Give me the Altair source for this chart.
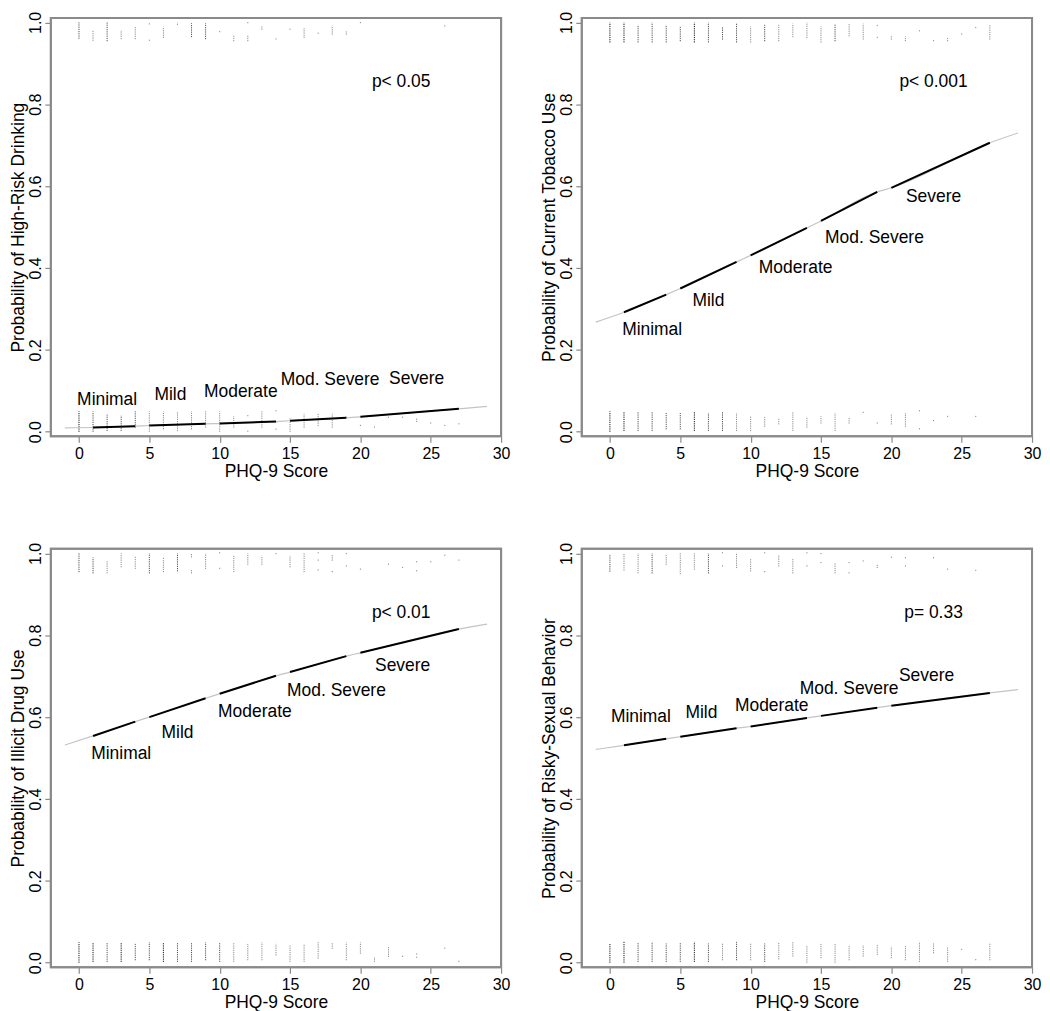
import altair as alt
import pandas as pd

FONT = "Liberation Sans"

# ---------------- data ----------------
CURVE_X = [-1, 1, 4, 5, 9, 10, 14, 15, 19, 20, 27, 29]
SEGMENT = ["", "Minimal", "Minimal", "Mild", "Mild", "Moderate", "Moderate",
           "Mod. Severe", "Mod. Severe", "Severe", "Severe", ""]
LABELS = ["Minimal", "Mild", "Moderate", "Mod. Severe", "Severe"]

DRINK_Y = [0.0097, 0.0105, 0.0138, 0.0154, 0.0195, 0.020, 0.025, 0.027, 0.034, 0.0365, 0.056, 0.062]
TOBACCO_Y = [0.268, 0.292, 0.335, 0.350, 0.415, 0.431, 0.498, 0.515, 0.586, 0.596, 0.706, 0.730]
DRUG_Y = [0.532, 0.554, 0.589, 0.600, 0.646, 0.657, 0.701, 0.710, 0.749, 0.757, 0.815, 0.827]
SEX_Y = [0.521, 0.531, 0.547, 0.552, 0.573, 0.577, 0.598, 0.603, 0.623, 0.628, 0.659, 0.667]

DRINK_LX = [2.0, 6.5, 11.5, 17.85, 24.0]
DRINK_LY = [0.077, 0.089, 0.097, 0.126, 0.128]
TOBACCO_LX = [3.0, 7.0, 13.2, 18.8, 23.0]
TOBACCO_LY = [0.249, 0.320, 0.400, 0.474, 0.574]
DRUG_LX = [3.0, 7.0, 12.5, 18.3, 23.0]
DRUG_LY = [0.511, 0.560, 0.612, 0.663, 0.724]
SEX_LX = [2.2, 6.5, 11.5, 17.0, 22.5]
SEX_LY = [0.600, 0.610, 0.627, 0.669, 0.700]

P_TEXT = ["p< 0.05", "p< 0.001", "p< 0.01", "p= 0.33"]
P_X = [22.9, 23.0, 22.9, 23.0]
P_Y = [0.854, 0.854, 0.854, 0.854]

Y_TITLES = ["Probability of High-Risk Drinking", "Probability of Current Tobacco Use",
            "Probability of Illicit Drug Use", "Probability of Risky-Sexual Behavior"]

# jittered observations: (PHQ-9 score, lowest y, highest y, density 1-3)
DRINK_RUG = [
    (0, .960, 1.0, 2), (1, .955, .981, 1), (2, .954, 1.0, 2), (3, .959, .981, 1), (4, .959, .990, 1),
    (5, .955, .955, 1), (5, .995, .995, 1), (6, .962, .989, 1), (7, .994, 1.0, 1), (8, .964, .998, 2),
    (9, .959, .998, 2), (10, .976, .976, 1), (11, .954, .968, 1), (12, .998, .998, 1), (12, .954, .970, 1),
    (13, .982, .990, 1), (14, .958, .958, 1), (15, .982, .982, 1), (16, .962, .986, 1), (17, .972, .972, 1),
    (18, .970, .992, 1), (19, .970, .978, 1), (20, .998, .998, 1), (26, .990, .990, 1),
    (0, 0.0, .050, 3), (1, 0.0, .050, 2), (2, .002, .042, 2), (3, .002, .040, 2), (4, .010, .050, 2),
    (5, 0.0, .050, 1), (6, .006, .050, 1), (7, .002, .050, 1), (8, .006, .050, 1), (9, .010, .050, 1),
    (10, 0.0, .050, 1), (11, .010, .038, 1), (12, 0.0, 0.0, 1), (12, .038, .038, 1), (13, .010, .050, 1),
    (14, .005, .005, 1), (14, .022, .022, 1), (14, .050, .050, 1), (15, 0.0, .034, 1), (16, .010, .044, 1),
    (17, .014, .044, 1), (18, .010, .044, 1), (19, .034, .034, 1), (20, .014, .014, 1), (21, .010, .010, 1),
    (22, .034, .034, 1), (23, .034, .034, 1), (24, .024, .034, 1), (25, .020, .020, 1), (26, .014, .014, 1),
    (27, .018, .018, 1),
]
TOBACCO_RUG = [
    (0, .951, 1.0, 3), (1, .951, 1.0, 3), (2, .951, .994, 2), (3, .951, 1.0, 2), (4, .951, .994, 2),
    (5, .954, .990, 2), (6, .951, 1.0, 3), (7, .951, 1.0, 2), (8, .958, .990, 2), (9, .951, .997, 2),
    (10, .951, .990, 1), (11, .954, .994, 2), (12, .954, .994, 1), (13, .964, .997, 1), (14, .962, 1.0, 1),
    (15, .951, .990, 1), (16, .954, .997, 2), (17, .966, .998, 1), (18, .958, .997, 1), (19, .962, .962, 1),
    (19, .991, .991, 1), (20, .958, .968, 1), (21, .954, .966, 1), (22, .978, .978, 1), (23, .954, .954, 1),
    (24, .954, .962, 1), (25, .970, .970, 1), (26, .986, .986, 1), (27, .958, .994, 1),
    (0, 0.0, .050, 3), (1, .002, .050, 3), (2, .002, .048, 2), (3, .002, .048, 2), (4, .006, .046, 2),
    (5, .006, .046, 2), (6, .002, .050, 3), (7, .002, .046, 2), (8, .002, .050, 2), (9, .002, .046, 1),
    (10, .002, .038, 1), (11, .012, .036, 1), (12, .018, .032, 1), (13, .002, .050, 1), (14, .010, .036, 1),
    (15, .020, .038, 1), (16, .002, .046, 1), (17, .020, .034, 1), (18, .046, .046, 1), (19, .020, .020, 1),
    (20, .018, .042, 1), (21, .012, .046, 1), (22, .006, .006, 1), (22, .050, .050, 1), (23, .026, .026, 1),
    (24, .036, .036, 1), (26, .036, .036, 1),
]
DRUG_RUG = [
    (0, .954, 1.0, 2), (1, .951, .990, 2), (2, .951, .982, 1), (3, .966, 1.0, 1), (4, .962, .992, 1),
    (5, .951, 1.0, 2), (6, .954, .990, 1), (7, .956, 1.0, 2), (8, .990, 1.0, 1), (8, .951, .959, 1),
    (9, .962, 1.0, 1), (10, 1.0, 1.0, 1), (10, .962, .962, 1), (11, .954, .994, 1), (12, .972, 1.0, 1),
    (13, .972, .994, 1), (14, .998, .998, 1), (15, .966, .994, 1), (16, .954, 1.0, 1), (17, 1.0, 1.0, 1),
    (17, .982, .982, 1), (17, .958, .958, 1), (18, .982, .998, 1), (18, .954, .954, 1), (19, .998, .998, 1),
    (19, .968, .968, 1), (20, .960, .960, 1), (22, .972, .972, 1), (23, .964, .964, 1), (24, .978, .978, 1),
    (24, .956, .956, 1), (25, .978, .978, 1), (26, .994, .994, 1), (27, .982, .982, 1),
    (0, 0.0, .050, 3), (1, .002, .050, 3), (2, .002, .050, 2), (3, .002, .050, 3), (4, .006, .046, 2),
    (5, .006, .050, 2), (6, .002, .050, 3), (7, .002, .050, 2), (8, .002, .050, 2), (9, .006, .050, 2),
    (10, .002, .050, 2), (11, .002, .048, 1), (12, .006, .046, 1), (13, .006, .050, 1), (14, .018, .046, 1),
    (15, .002, .042, 1), (16, .002, .046, 1), (17, .010, .050, 1), (18, .034, .050, 1), (19, .006, .050, 1),
    (20, .022, .050, 1), (21, .002, .014, 1), (22, .014, .038, 1), (23, .014, .014, 1), (24, .012, .012, 1),
    (24, .020, .020, 1), (26, .034, .034, 1), (27, .002, .002, 1),
]
SEX_RUG = [
    (0, .955, .996, 2), (1, .958, 1.0, 1), (2, .951, 1.0, 1), (3, .951, 1.0, 2), (4, .972, .996, 1),
    (5, .949, 1.0, 1), (6, .960, 1.0, 1), (7, .951, 1.0, 2), (8, 1.0, 1.0, 1), (8, .968, .968, 1),
    (9, .964, 1.0, 1), (10, .956, .988, 1), (11, 1.0, 1.0, 1), (11, .954, .954, 1), (12, .968, .996, 1),
    (13, .951, .988, 1), (14, 1.0, 1.0, 1), (14, .968, .968, 1), (15, .998, .998, 1), (15, .976, .976, 1),
    (16, .951, .976, 1), (17, .976, .976, 1), (17, .951, .951, 1), (18, .980, .980, 1), (19, .964, .972, 1),
    (20, .989, .989, 1), (21, .988, .988, 1), (21, .968, .968, 1), (23, .988, .988, 1), (24, .960, .960, 1),
    (26, .957, .957, 1),
    (0, 0.0, .047, 3), (1, 0.0, .051, 3), (2, .002, .049, 2), (3, .002, .051, 2), (4, .002, .047, 2),
    (5, .002, .049, 2), (6, .002, .051, 3), (7, .002, .047, 2), (8, .006, .047, 1), (9, .006, .051, 2),
    (10, .006, .049, 1), (11, .002, .047, 2), (12, .008, .049, 1), (13, .015, .051, 1), (14, 0.0, .043, 1),
    (15, .011, .047, 1), (16, 0.0, .047, 1), (17, .006, .043, 1), (18, .015, .043, 1), (19, .019, .043, 1),
    (20, .011, .039, 1), (21, .006, .043, 1), (22, .002, .051, 1), (23, .023, .047, 1), (24, .002, .039, 1),
    (25, .031, .031, 1), (26, .006, .006, 1), (27, .006, .049, 1),
]

# ---------------- chart construction ----------------
W, H = 452, 420
BOX = "#8a8a8a"
xs = alt.Scale(domain=[-2, 30], nice=False, zero=False)
ys = alt.Scale(domain=[-0.011, 1.011], nice=False, zero=False)

x_axis = alt.Axis(values=[0, 5, 10, 15, 20, 25, 30], domain=False, grid=False, tickSize=6,
                  tickColor=BOX, tickWidth=1.2, labelFontSize=16, labelFont=FONT,
                  labelColor="black", labelPadding=3, labelFlush=False, labelOverlap=False,
                  titleFontSize=17.5, titleFont=FONT, titleFontWeight="normal", titleColor="black",
                  titlePadding=1)


def y_axis():
    return alt.Axis(values=[0, 0.2, 0.4, 0.6, 0.8, 1.0], format=".1f", domain=False, grid=False,
                    tickSize=6, tickColor=BOX, tickWidth=1.2, labelFontSize=16,
                    labelFont=FONT, labelColor="black", labelAngle=270, labelAlign="center",
                    labelBaseline="bottom", labelPadding=1, labelFlush=False, labelOverlap=False,
                    titleFontSize=17.5, titleFont=FONT, titleFontWeight="normal", titleColor="black",
                    titlePadding=0)


def panel(curve_y, lab_x, lab_y, idx, rug):
    ytitle = Y_TITLES[idx]
    X = alt.X("x:Q", scale=xs, axis=x_axis, title="PHQ-9 Score")
    Y = alt.Y("y:Q", scale=ys, axis=y_axis(), title=ytitle)

    curve = pd.DataFrame({"x": CURVE_X, "y": curve_y, "seg": SEGMENT})
    segs = curve[curve["seg"] != ""]
    rug_df = pd.DataFrame(rug, columns=["x", "y", "hi", "d"])
    rug_df["y2"] = [max(h, l + 0.003) for l, h in zip(rug_df["y"], rug_df["hi"])]
    labels = pd.DataFrame({"x": lab_x, "y": lab_y, "t": LABELS})
    ptxt = pd.DataFrame({"x": [P_X[idx]], "y": [P_Y[idx]], "t": [P_TEXT[idx]]})

    frame = alt.Chart(pd.DataFrame({"k": [0]})).mark_rect(
        fillOpacity=0, fill="white", stroke=BOX, strokeWidth=2).encode(
        x=alt.value(0), x2=alt.value(W), y=alt.value(0), y2=alt.value(H))
    rug_layer = alt.Chart(rug_df).mark_rule(strokeDash=[1.2, 1], strokeWidth=1).encode(
        x=X, y=Y, y2="y2:Q",
        color=alt.Color("d:O", scale=alt.Scale(domain=[1, 2, 3], range=["#8c8c8c", "#505050", "#151515"]),
                        legend=None))
    gray = alt.Chart(curve).mark_line(color="#c4c4c4", strokeWidth=1.2, interpolate="monotone").encode(x=X, y=Y)
    black = alt.Chart(segs).mark_line(color="black", strokeWidth=2).encode(x=X, y=Y, detail="seg:N")
    text = alt.Chart(labels).mark_text(font=FONT, fontSize=17.5, color="black", align="center",
                                       baseline="middle").encode(x=X, y=Y, text="t:N")
    ptext = alt.Chart(ptxt).mark_text(font=FONT, fontSize=17.5, color="black", align="center",
                                      baseline="middle").encode(x=X, y=Y, text="t:N")
    return alt.layer(frame, rug_layer, gray, black, text, ptext).properties(width=W, height=H)


p1 = panel(DRINK_Y, DRINK_LX, DRINK_LY, 0, DRINK_RUG)
p2 = panel(TOBACCO_Y, TOBACCO_LX, TOBACCO_LY, 1, TOBACCO_RUG)
p3 = panel(DRUG_Y, DRUG_LX, DRUG_LY, 2, DRUG_RUG)
p4 = panel(SEX_Y, SEX_LX, SEX_LY, 3, SEX_RUG)

chart = alt.vconcat(
    alt.hconcat(p1, p2, spacing=28),
    alt.hconcat(p3, p4, spacing=28),
    spacing=60,
).configure(
    padding={"left": 0, "top": 0, "right": 0, "bottom": 0}, background="white"
).configure_view(stroke=BOX, strokeWidth=2)

chart.save("out.html", embed_options={"renderer": "svg", "actions": False})
